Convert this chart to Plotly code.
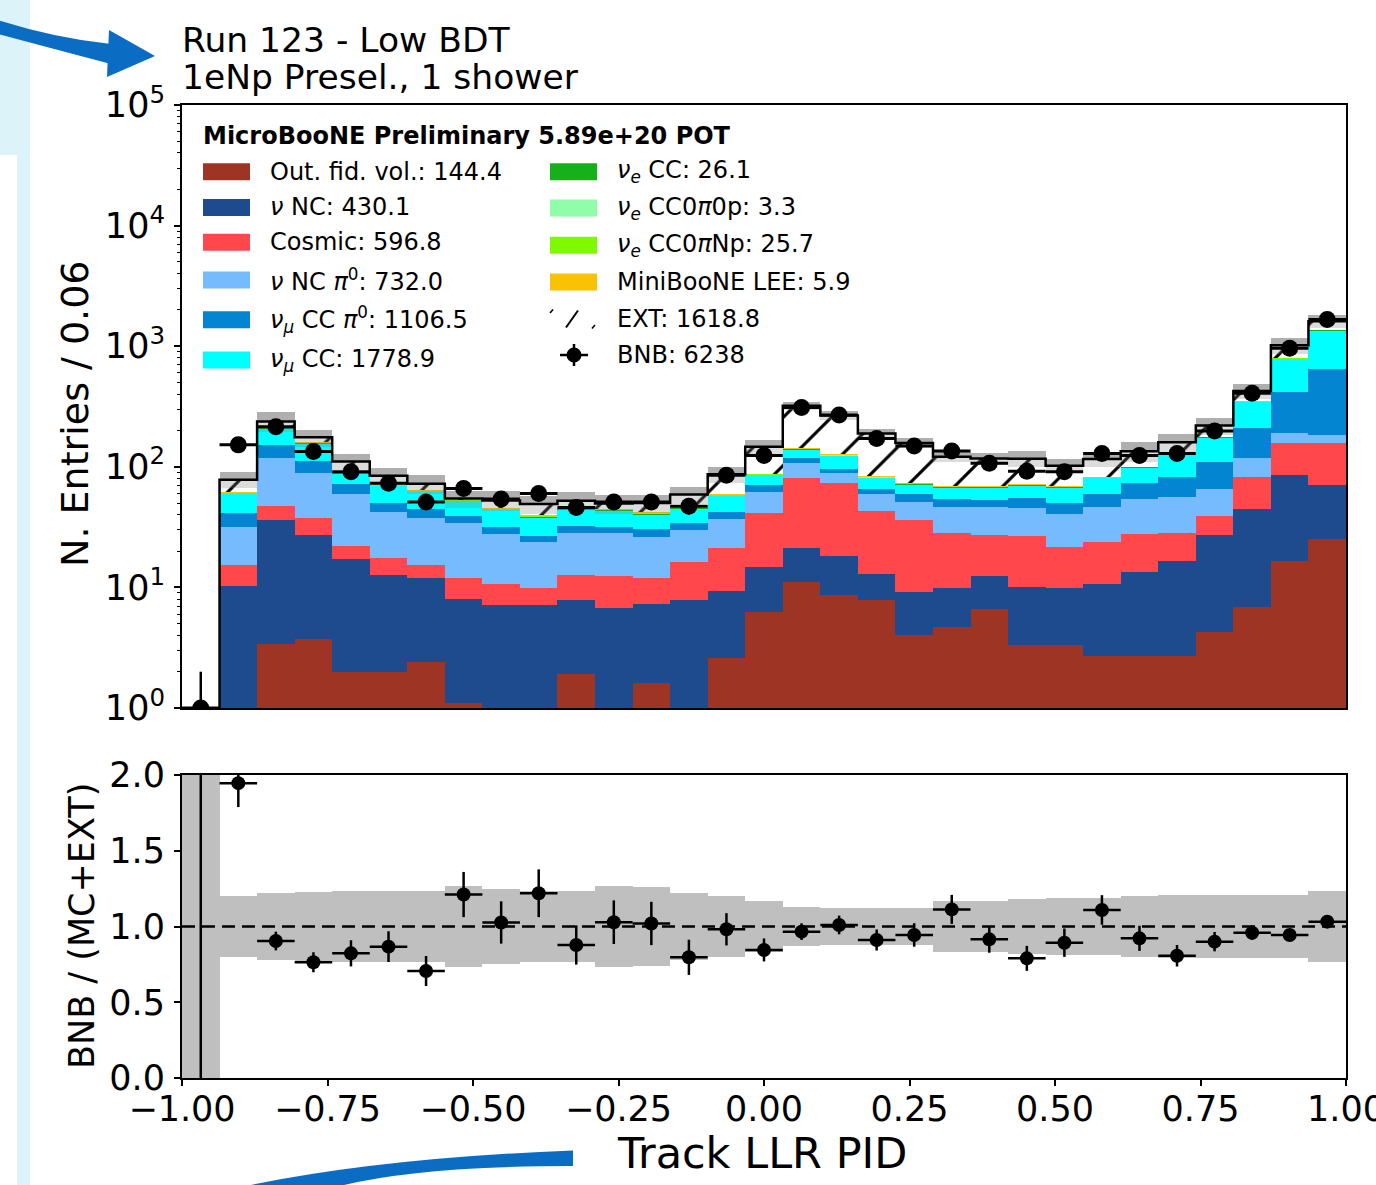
import numpy as np
import plotly.graph_objects as go

W, H = 1376, 1185
FONT = "DejaVu Sans"

# 31 equal-width bins over the Track LLR PID range
bin_edges = np.linspace(-1.0, 1.0, 32)
bin_centers = 0.5 * (bin_edges[:-1] + bin_edges[1:])
bin_width = bin_edges[1] - bin_edges[0]

# Expected events per bin for each category (stacked bottom -> top)
out_fid_vol = [0.0, 0.4, 3.4, 3.7, 2.0, 2.0, 2.4, 1.1, 0.8, 0.6, 1.9, 0.9, 1.6, 1.0, 2.6, 6.3,
               11.0, 8.7, 7.9, 4.0, 4.7, 6.6, 3.3, 3.3, 2.7, 2.7, 2.7, 4.3, 6.9, 16.6, 25.1]
nu_nc = [0.0, 9.9, 32.8, 23.5, 15.1, 10.7, 9.5, 6.9, 6.4, 6.5, 5.9, 5.9, 5.7, 6.8, 6.8, 8.4,
         10.3, 9.6, 5.1, 5.2, 5.1, 5.8, 6.7, 6.5, 8.0, 10.6, 13.9, 22.9, 37.8, 68.9, 45.5]
cosmic = [0.0, 5.1, 11.1, 10.6, 4.9, 4.7, 3.4, 3.9, 3.5, 2.8, 4.9, 5.7, 4.6, 8.5, 11.7, 26.9,
          59.0, 54.7, 30.0, 27.0, 18.3, 14.8, 16.8, 11.7, 13.0, 14.4, 11.5, 11.9, 38.0, 71.2, 86.1]
nu_nc_pi0 = [0.0, 16.3, 71.0, 51.6, 37.5, 24.6, 22.5, 22.1, 17.0, 13.8, 15.4, 15.6, 14.1, 13.6, 15.8, 20.6,
             27.7, 15.3, 16.5, 14.6, 18.6, 19.0, 18.5, 19.1, 22.5, 26.4, 27.8, 26.0, 34.9, 35.1, 26.8]
numu_cc_pi0 = [0.0, 9.9, 32.4, 22.3, 12.5, 7.8, 6.9, 5.1, 3.9, 3.1, 4.4, 3.8, 4.5, 4.5, 5.5, 8.4,
               9.6, 7.6, 5.9, 8.7, 7.1, 6.8, 9.5, 9.8, 13.3, 18.9, 25.9, 43.9, 90.9, 223.2, 463.5]
numu_cc = [0.0, 18.2, 57.8, 45.0, 16.3, 19.9, 17.5, 13.3, 12.3, 11.3, 11.9, 11.4, 9.9, 10.9, 14.9, 14.9,
           22.1, 27.8, 15.8, 12.5, 13.8, 14.6, 15.8, 17.2, 21.7, 26.0, 43.5, 66.7, 138.1, 379.0, 715.0]
nue_cc = [0.0, 0.5, 1.5, 1.2, 0.8, 0.6, 0.6, 0.5, 0.5, 0.5, 0.6, 0.6, 0.6, 0.7, 0.8, 1.0,
          1.5, 1.4, 1.0, 0.8, 0.7, 0.7, 0.7, 0.7, 0.8, 0.9, 1.0, 1.2, 1.5, 1.5, 0.7]
nue_cc0pi0p = [0.0, 0.1, 0.1, 0.1, 0.1, 0.1, 0.1, 0.1, 0.1, 0.1, 0.1, 0.1, 0.1, 0.1, 0.1, 0.1,
               0.2, 0.2, 0.1, 0.1, 0.1, 0.1, 0.1, 0.1, 0.1, 0.1, 0.1, 0.1, 0.1, 0.2, 0.1]
nue_cc0piNp = [0.0, 1.0, 3.1, 2.0, 1.2, 1.0, 0.9, 0.8, 0.8, 0.8, 0.8, 0.8, 0.8, 0.9, 1.0, 1.2,
               1.5, 1.2, 0.8, 0.6, 0.5, 0.4, 0.4, 0.4, 0.4, 0.4, 0.4, 0.4, 0.4, 0.4, 0.4]
miniboone_lee = [0.0, 0.5, 0.6, 0.5, 0.3, 0.3, 0.2, 0.2, 0.2, 0.2, 0.2, 0.2, 0.2, 0.2, 0.2, 0.2,
                 0.2, 0.2, 0.1, 0.1, 0.1, 0.1, 0.1, 0.1, 0.1, 0.1, 0.1, 0.1, 0.1, 0.1, 0.1]
ext = [0.0, 16.2, 24.0, 14.9, 19.9, 12.5, 8.2, 0.5, 7.1, 9.5, 6.3, 4.6, 7.9, 11.8, 27.2, 58.7,
       177.8, 139.6, 105.6, 84.2, 52.3, 48.0, 44.6, 33.0, 33.7, 34.0, 33.0, 42.5, 76.7, 220.7, 250.1]

# Observed BNB counts per bin
bnb = [0, 152, 215, 134, 91, 73, 51, 66, 54, 60, 46, 51, 51, 47, 85, 124,
       310, 269, 172, 149, 135, 107, 92, 91, 129, 124, 129, 198, 408, 960, 1665]

# Fractional uncertainty on the prediction (main panel band, ratio panel band)
nan = float("nan")
unc_main = [nan, 0.15, 0.19, 0.16, 0.15, 0.16, 0.18, 0.16, 0.19, 0.17, 0.17, 0.18, 0.17, 0.16, 0.16, 0.14,
            0.07, 0.09, 0.10, 0.10, 0.10, 0.12, 0.15, 0.13, 0.15, 0.19, 0.17, 0.16, 0.15, 0.15, 0.12]
unc_ratio = [nan, 0.20, 0.22, 0.23, 0.233, 0.233, 0.235, 0.27, 0.25, 0.235, 0.235, 0.27, 0.26, 0.22, 0.20, 0.17,
             0.127, 0.122, 0.122, 0.125, 0.167, 0.17, 0.18, 0.185, 0.19, 0.20, 0.205, 0.205, 0.21, 0.21, 0.237]

y_ticks = [1, 10, 100, 1000, 10000, 100000]
y_ticktext = ["10<sup>0</sup>", "10<sup>1</sup>", "10<sup>2</sup>", "10<sup>3</sup>", "10<sup>4</sup>", "10<sup>5</sup>"]
x_ticks = [-1.0, -0.75, -0.5, -0.25, 0.0, 0.25, 0.5, 0.75, 1.0]
r_ticks = [0.0, 0.5, 1.0, 1.5, 2.0]

stack = [
    ("Out. fid. vol.: 144.4", out_fid_vol, "#9e3423"),
    ("<i>ν</i> NC: 430.1", nu_nc, "#1e4a8e"),
    ("Cosmic: 596.8", cosmic, "#ff474c"),
    ("<i>ν</i> NC <i>π</i><sup>0</sup>: 732.0", nu_nc_pi0, "#75bbfd"),
    ("<i>ν<sub>μ</sub></i> CC <i>π</i><sup>0</sup>: 1106.5", numu_cc_pi0, "#0485d1"),
    ("<i>ν<sub>μ</sub></i> CC: 1778.9", numu_cc, "#00ffff"),
    ("<i>ν<sub>e</sub></i> CC: 26.1", nue_cc, "#15b01a"),
    ("<i>ν<sub>e</sub></i> CC0<i>π</i>0p: 3.3", nue_cc0pi0p, "#90fda9"),
    ("<i>ν<sub>e</sub></i> CC0<i>π</i>Np: 25.7", nue_cc0piNp, "#80f900"),
    ("MiniBooNE LEE: 5.9", miniboone_lee, "#fac205"),
]

total = np.sum([np.array(v, float) for _, v, _ in stack], axis=0) + np.array(ext, float)
data = np.array(bnb, float)
has_mc = total > 0

fig = go.Figure()

# ---- main panel: stacked prediction ----
for name, vals, col in stack:
    fig.add_trace(go.Bar(x=bin_centers, y=vals, width=bin_width, marker=dict(color=col, line=dict(width=0)),
                         name=name, showlegend=False, xaxis="x", yaxis="y"))
fig.add_trace(go.Bar(x=bin_centers, y=ext, width=bin_width,
                     marker=dict(color="white", line=dict(width=0),
                                 pattern=dict(shape="/", fgcolor="black", fgopacity=1.0, bgcolor="white",
                                              size=34, solidity=0.09, fillmode="overlay")),
                     name="EXT", showlegend=False, xaxis="x", yaxis="y"))

# uncertainty band on the total prediction
um = np.array(unc_main, float)
tot_mc = np.where(has_mc, total, np.nan)
fig.add_trace(go.Bar(x=bin_centers, y=tot_mc * um, base=tot_mc, width=bin_width,
                     marker=dict(color="rgba(110,110,110,0.55)", line=dict(width=0)),
                     showlegend=False, xaxis="x", yaxis="y"))
fig.add_trace(go.Bar(x=bin_centers, y=tot_mc * um, base=tot_mc * (1 - um), width=bin_width,
                     marker=dict(color="rgba(130,130,130,0.28)", line=dict(width=0)),
                     showlegend=False, xaxis="x", yaxis="y"))

# outline of the total prediction
y_floor = 10 ** 0
first = int(np.argmax(has_mc))
step_x = [bin_edges[first]] + list(bin_edges[first:-1]) + [bin_edges[-1]]
step_y = [y_floor] + list(total[first:]) + [total[-1]]
fig.add_trace(go.Scatter(x=step_x, y=step_y, mode="lines", line=dict(color="black", width=2.5, shape="hv"),
                         showlegend=False, xaxis="x", yaxis="y"))

# BNB data points
err = np.sqrt(data)
err_up = np.where(data > 0, err, 1.0)
err_dn = np.where(data > 0, err, 0.0)
y_plot = np.where(data > 0, data, y_floor)
fig.add_trace(go.Scatter(x=bin_centers, y=y_plot, mode="markers",
                         marker=dict(color="black", size=17),
                         error_y=dict(type="data", symmetric=False, array=err_up, arrayminus=err_dn,
                                      color="black", thickness=2.5, width=0),
                         error_x=dict(type="constant", value=bin_width / 2, color="black", thickness=3, width=0),
                         showlegend=False, xaxis="x", yaxis="y"))

# ---- ratio panel ----
r_lo, r_hi = r_ticks[0], r_ticks[-1]
ur = np.array(unc_ratio, float)
band_base = np.where(has_mc, 1 - ur, r_lo)
band_h = np.where(has_mc, 2 * ur, r_hi - r_lo)
fig.add_trace(go.Bar(x=bin_centers, y=band_h, base=band_base, width=bin_width,
                     marker=dict(color="#bfbfbf", line=dict(width=0)),
                     showlegend=False, xaxis="x2", yaxis="y2"))

fig.add_trace(go.Scatter(x=[x_ticks[0], x_ticks[-1]], y=[1, 1], mode="lines",
                         line=dict(color="black", width=2.5, dash="13px,7px"),
                         showlegend=False, xaxis="x2", yaxis="y2"))

ratio = np.where(has_mc, data / np.where(has_mc, total, 1), np.nan)
ratio_err = np.where(has_mc, err / np.where(has_mc, total, 1), np.nan)
fig.add_trace(go.Scatter(x=bin_centers[has_mc], y=ratio[has_mc], mode="markers",
                         marker=dict(color="black", size=14),
                         error_y=dict(type="data", array=ratio_err[has_mc], color="black", thickness=2.5, width=0),
                         error_x=dict(type="constant", value=bin_width / 2, color="black", thickness=2.5, width=0),
                         showlegend=False, xaxis="x2", yaxis="y2"))
# bins without prediction: undefined ratio spans the whole panel
for xc in bin_centers[~has_mc]:
    fig.add_trace(go.Scatter(x=[xc, xc], y=[r_lo, r_hi], mode="lines", line=dict(color="black", width=2.5),
                             showlegend=False, xaxis="x2", yaxis="y2"))

# ---- layout ----
def px_x(x):
    return x / W


def px_y(y):
    return 1 - y / H


xdom = [px_x(182), px_x(1346)]
axis_common = dict(showline=True, linecolor="black", linewidth=2, mirror=True, showgrid=False, zeroline=False,
                   automargin=False, tickcolor="black", tickwidth=1.5, ticklabeloverflow="allow",
                   tickfont=dict(family=FONT, size=35, color="black"))
minor_vals = [k * 10 ** d for d in range(0, 5) for k in range(2, 10)]

fig.update_layout(
    width=W, height=H, margin=dict(l=0, r=0, t=0, b=0, autoexpand=False),
    paper_bgcolor="white", plot_bgcolor="white",
    font=dict(family=FONT, color="black"),
    barmode="stack", bargap=0, showlegend=False,
    xaxis=dict(domain=xdom, range=[-1, 1], anchor="y", matches="x2", showticklabels=False, ticks="",
               **axis_common),
    yaxis=dict(domain=[px_y(708), px_y(105)], type="log", range=[0, 5], anchor="x",
               tickvals=y_ticks, ticktext=y_ticktext, ticks="outside", ticklen=6, ticklabelstandoff=2,
               minor=dict(tickvals=minor_vals, ticks="outside", ticklen=3.5, tickwidth=1, tickcolor="black"),
               **axis_common),
    xaxis2=dict(domain=xdom, range=[-1, 1], anchor="y2", tickvals=x_ticks, tickformat=".2f", ticks="outside",
                ticklen=6, ticklabelstandoff=-7, **axis_common),
    yaxis2=dict(domain=[px_y(1078), px_y(775)], range=[r_lo, r_hi], anchor="x2", tickvals=r_ticks,
                tickformat=".1f", ticks="outside", ticklen=6, ticklabelstandoff=2, **axis_common),
)

ann = []


def text(x, y, s, size, xanchor="left", angle=0):
    ann.append(dict(x=px_x(x), y=px_y(y), xref="paper", yref="paper", text=s, showarrow=False,
                    xanchor=xanchor, yanchor="middle", textangle=angle,
                    font=dict(family=FONT, size=size, color="black")))


text(180, 40, "Run 123 - Low BDT", 34.5)
text(180, 77, "1eNp Presel., 1 shower", 34.5)
text(75, 414, "N. Entries / 0.06", 38, xanchor="center", angle=-90)
text(82, 926, "BNB / (MC+EXT)", 35, xanchor="center", angle=-90)
text(762, 1153, "Track LLR PID", 43, xanchor="center")
text(201, 136, "<b>MicroBooNE Preliminary 5.89e+20 POT</b>", 24)

shapes = []


def rect(x0, y0, x1, y1, color, layer="above"):
    shapes.append(dict(type="rect", xref="paper", yref="paper", x0=px_x(x0), x1=px_x(x1),
                       y0=px_y(y1), y1=px_y(y0), fillcolor=color, line=dict(width=0), layer=layer))


def seg(x0, y0, x1, y1, width=2.0):
    shapes.append(dict(type="line", xref="paper", yref="paper", x0=px_x(x0), x1=px_x(x1),
                       y0=px_y(y0), y1=px_y(y1), line=dict(color="black", width=width)))


# legend: two columns drawn in figure space
left_rows = [171.7, 207.5, 242.3, 280.0, 319.7, 360.0]
right_rows = [171.7, 208.0, 245.3, 282.0, 319.0, 355.0]
for (name, _, col), yc in zip(stack[:6], left_rows):
    rect(203, yc - 8.5, 250, yc + 8.5, col)
    text(268, yc, name, 24)
for (name, _, col), yc in zip(stack[6:], right_rows[:4]):
    rect(550, yc - 8.5, 597, yc + 8.5, col)
    text(615, yc, name, 24)
yc = right_rows[4]
seg(550, yc - 6, 553, yc - 9.5, 1.6)
seg(566, yc + 8.5, 578, yc - 8.5, 2.0)
seg(592, yc + 9.5, 595, yc + 6, 1.6)
text(615, yc, "EXT: 1618.8", 24)
yc = right_rows[5]
seg(560, yc, 588, yc, 2.5)
seg(574, yc - 11, 574, yc + 11, 2.5)
shapes.append(dict(type="circle", xref="paper", yref="paper", x0=px_x(566.5), x1=px_x(581.5),
                   y0=px_y(yc + 7.5), y1=px_y(yc - 7.5), fillcolor="black", line=dict(width=0)))
text(615, yc, "BNB: 6238", 24)

# slide decorations around the figure
rect(0, 0, 30, 155, "#dcf3f9", layer="below")
rect(17, 155, 30, 1185, "#dcf3f9", layer="below")


def P(x, y):
    return f"{px_x(x):.5f},{px_y(y):.5f}"


blue = "#0b6cc4"
shapes.append(dict(type="path", xref="paper", yref="paper", fillcolor=blue, line=dict(width=0),
                   path=f"M{P(-2, 20)} Q{P(55, 38)} {P(111, 44)} L{P(111, 64)} Q{P(50, 48)} {P(-2, 34)} Z"))
shapes.append(dict(type="path", xref="paper", yref="paper", fillcolor=blue, line=dict(width=0),
                   path=f"M{P(109, 30)} L{P(155, 56)} L{P(107, 77)} Z"))
shapes.append(dict(type="path", xref="paper", yref="paper", fillcolor=blue, line=dict(width=0),
                   path=f"M{P(246, 1186)} Q{P(380, 1158)} {P(573, 1150.5)} L{P(573, 1166)} "
                        f"Q{P(420, 1166)} {P(340, 1186)} Z"))

fig.update_layout(annotations=ann, shapes=shapes)
fig.write_html("out.html")
